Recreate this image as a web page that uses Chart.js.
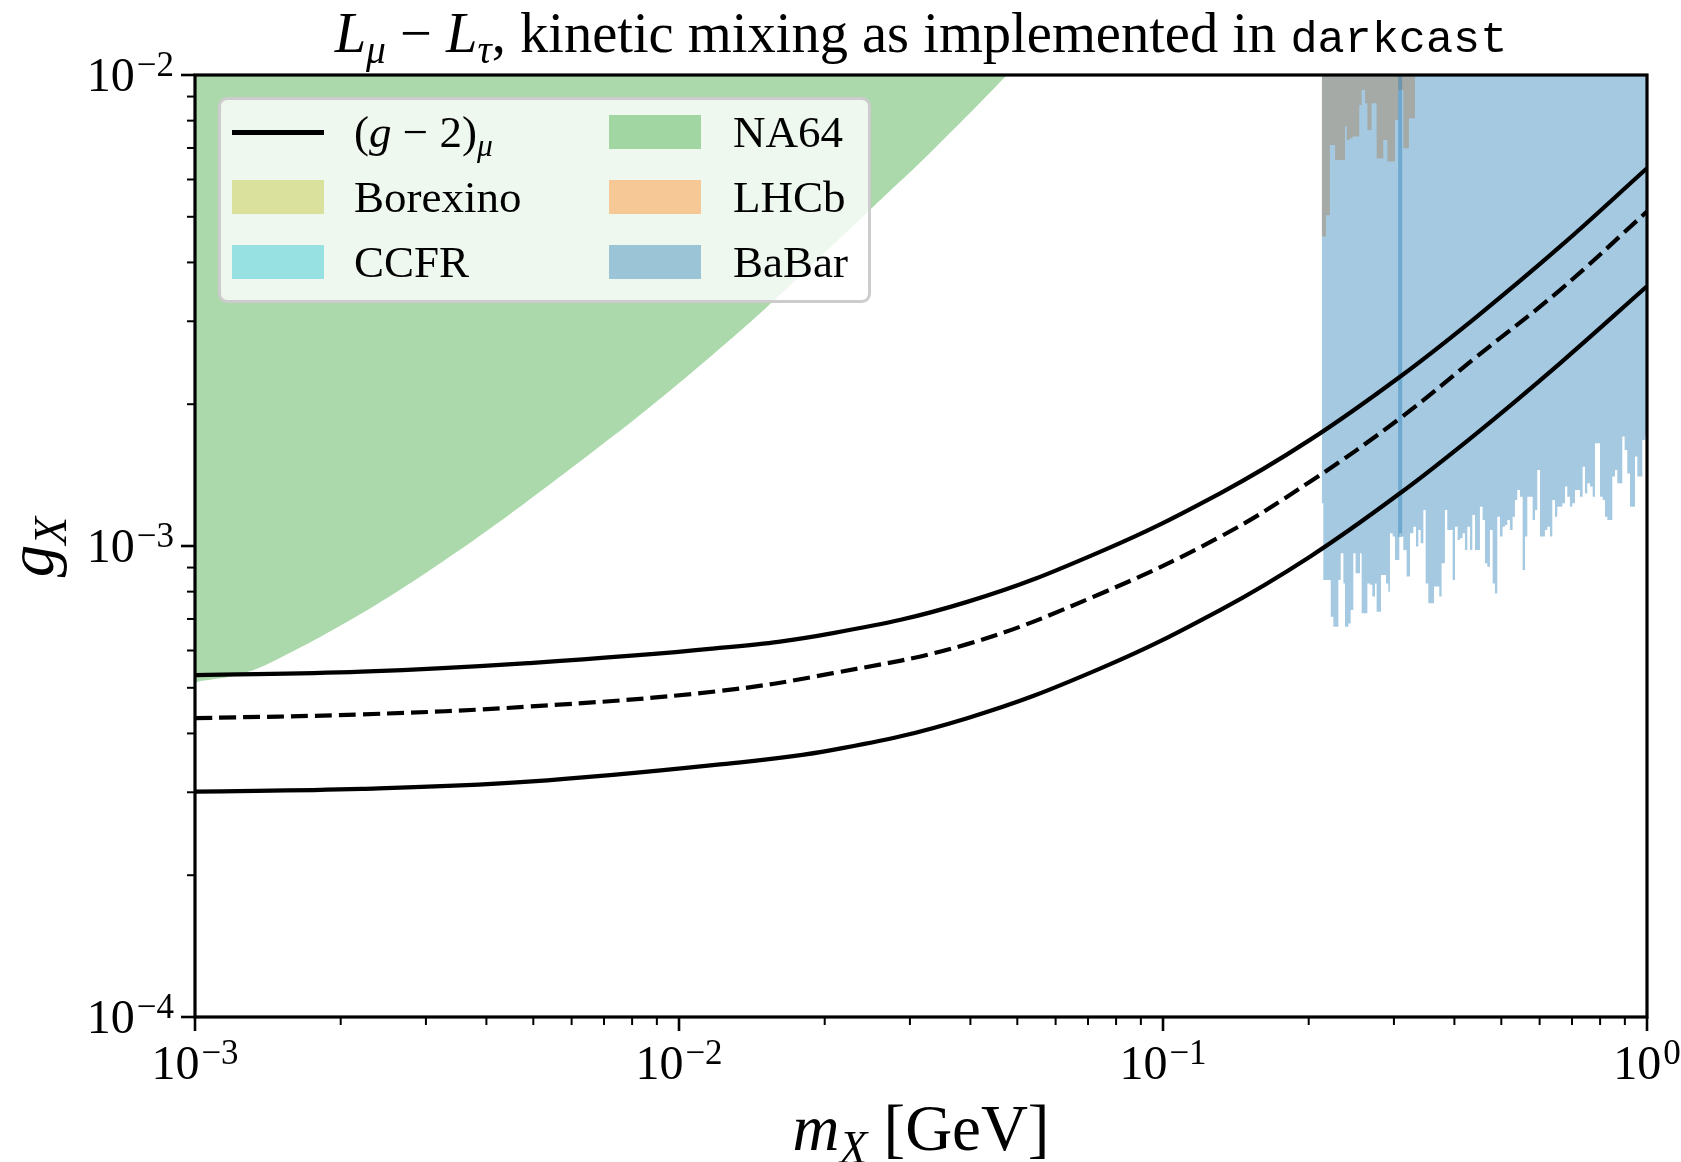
<!DOCTYPE html>
<html>
<head>
<meta charset="utf-8">
<title>L_mu - L_tau, kinetic mixing as implemented in darkcast</title>
<script src="https://cdn.jsdelivr.net/npm/chart.js@4.4.1/dist/chart.umd.min.js"></script>
<style>
  html, body { margin:0; padding:0; background:#ffffff; }
  #wrap { position:relative; width:1681px; height:1162px; overflow:hidden; background:#fff; }
  #chart { position:absolute; left:0; top:0; }
  .txt { position:absolute; font-family:"Liberation Serif","Times New Roman",serif; color:#000; white-space:nowrap; }
  .it { font-style:italic; }
  .tt { font-family:"Liberation Mono","DejaVu Sans Mono",monospace; font-size:0.8em; }
  .sub { font-size:70%; position:relative; top:0.28em; }
  #title { left:221px; width:1400px; top:5px; font-size:56.5px; line-height:56px; text-align:center; }
  #xlabel { left:221px; width:1400px; top:1096px; font-size:65px; line-height:65px; text-align:center; }
  #ylabel { left:-69px; top:507px; width:200px; height:80px; font-size:65px; line-height:80px; text-align:center; transform:rotate(-90deg); }
  #legend { position:absolute; left:218px; top:97px; width:647px; height:200px; border:3px solid #cccccc; border-radius:9px; background:rgba(255,255,255,0.8); }
  .sw { position:absolute; }
  .lt { position:absolute; font-family:"Liberation Serif","Times New Roman",serif; font-size:45px; line-height:44px; color:#000; white-space:nowrap; }
</style>
</head>
<body>
<div id="wrap">
  <canvas id="chart" width="1681" height="1162"></canvas>
  <div id="title" class="txt"><span class="it">L</span><span class="sub it">μ</span> − <span class="it">L</span><span class="sub it">τ</span>, kinetic mixing as implemented in <span class="tt">darkcast</span></div>
  <div id="xlabel" class="txt"><span class="it">m</span><span class="sub it">X</span> [GeV]</div>
  <div id="ylabel" class="txt"><span class="it">g</span><span class="sub it">X</span></div>
  <div id="legend"></div>
</div>
<script>
// ---------------- data ----------------
// (g-2)_mu band: mass [GeV] and coupling g_X
const gm2Mass    = [0.001, 0.00221, 0.00488, 0.01187, 0.0208, 0.0394, 0.0741, 0.1312, 0.2012, 0.3088, 0.4446, 0.661, 1.0];
const gm2Upper   = [5.32e-4, 5.41e-4, 5.64e-4, 6.06e-4, 6.53e-4, 7.61e-4, 9.72e-4, 1.294e-3, 1.680e-3, 2.288e-3, 3.067e-3, 4.320e-3, 6.34e-3];
const gm2Central = [4.31e-4, 4.39e-4, 4.56e-4, 4.91e-4, 5.37e-4, 6.19e-4, 7.91e-4, 1.046e-3, 1.369e-3, 1.867e-3, 2.523e-3, 3.495e-3, 5.13e-3];
const gm2Lower   = [3.01e-4, 3.05e-4, 3.16e-4, 3.43e-4, 3.69e-4, 4.31e-4, 5.49e-4, 7.31e-4, 9.49e-4, 1.294e-3, 1.735e-3, 2.443e-3, 3.56e-3];

// NA64 exclusion: lower boundary (excluded above)
const na64Mass     = [0.001, 0.001268, 0.001609, 0.002041, 0.002589, 0.003285, 0.004167, 0.005285, 0.006706, 0.008507, 0.01159, 0.0152, 0.01928, 0.02517, 0.03348, 0.04716, 0.0490];
const na64Coupling = [5.14e-4, 5.38e-4, 6.01e-4, 6.86e-4, 7.95e-4, 9.34e-4, 1.108e-3, 1.328e-3, 1.599e-3, 1.934e-3, 2.519e-3, 3.217e-3, 4.047e-3, 5.245e-3, 6.93e-3, 9.9e-3, 1.04e-2];

// LHCb exclusion (lower edge, excluded above) - mostly hidden below BaBar
const lhcbMass     = [0.2128, 0.2171, 0.2213, 0.2267, 0.2351, 0.2377, 0.2396, 0.2434, 0.2465, 0.2512, 0.2544, 0.2573, 0.2614, 0.2644, 0.2677, 0.2698, 0.2742, 0.2763, 0.2817, 0.2852, 0.2907, 0.2968, 0.3015, 0.3063, 0.3137, 0.3197, 0.3222, 0.3290, 0.3316, 0.3332];
const lhcbCoupling = [4.54e-3, 5.04e-3, 7.10e-3, 6.60e-3, 6.60e-3, 7.77e-3, 7.28e-3, 7.34e-3, 7.40e-3, 7.40e-3, 8.64e-3, 9.29e-3, 8.71e-3, 7.64e-3, 7.64e-3, 8.71e-3, 8.71e-3, 6.65e-3, 6.65e-3, 7.28e-3, 6.55e-3, 6.55e-3, 8.03e-3, 9.29e-3, 6.99e-3, 6.99e-3, 8.09e-3, 8.09e-3, 9.92e-3, 1.0e-2];

// BaBar exclusion (lower edge, excluded above)
const babarMass = [0.2128, 0.2144, 0.2196, 0.2221, 0.2249, 0.2285, 0.2303, 0.2329, 0.2359, 0.2377, 0.2415, 0.2442, 0.2473, 0.2500, 0.2532, 0.2553, 0.2573, 0.2614, 0.2644, 0.2677, 0.2707, 0.2742, 0.2763, 0.2798, 0.2821, 0.2852, 0.2889, 0.2921, 0.2944, 0.2982, 0.3015, 0.3048, 0.3078, 0.3112, 0.3137, 0.3187, 0.3238, 0.3290, 0.3332, 0.3369, 0.3407, 0.3451, 0.3489, 0.3533, 0.3590, 0.3630, 0.3676, 0.3723, 0.3764, 0.3824, 0.3867, 0.3916, 0.3967, 0.4011, 0.4062, 0.4107, 0.4159, 0.4206, 0.4253, 0.4308, 0.4356, 0.4411, 0.4460, 0.4517, 0.4574, 0.4626, 0.4678, 0.4737, 0.4798, 0.4851, 0.4905, 0.4968, 0.5031, 0.5087, 0.5144, 0.5209, 0.5276, 0.5336, 0.5395, 0.5464, 0.5534, 0.5596, 0.5658, 0.5730, 0.5804, 0.5869, 0.5934, 0.6010, 0.6077, 0.6154, 0.6224, 0.6303, 0.6373, 0.6454, 0.6526, 0.6609, 0.6683, 0.6769, 0.6844, 0.6931, 0.7008, 0.7098, 0.7178, 0.7269, 0.7363, 0.7445, 0.7528, 0.7624, 0.7722, 0.7808, 0.7895, 0.7997, 0.8099, 0.8190, 0.8281, 0.8386, 0.8479, 0.8588, 0.8683, 0.8794, 0.8891, 0.8990, 0.9105, 0.9224, 0.9326, 0.9445, 0.9550, 0.9672, 0.9779, 0.9904, 1.0];
const babarCoupling = [1.232e-3, 8.47e-4, 8.47e-4, 7.08e-4, 6.74e-4, 6.74e-4, 8.47e-4, 9.65e-4, 8.33e-4, 6.74e-4, 6.85e-4, 7.31e-4, 9.65e-4, 8.75e-4, 8.75e-4, 9.65e-4, 7.20e-4, 7.20e-4, 8.33e-4, 8.27e-4, 7.81e-4, 8.33e-4, 7.25e-4, 7.25e-4, 8.68e-4, 8.68e-4, 8.33e-4, 8.00e-4, 1.064e-3, 1.047e-3, 9.34e-4, 9.34e-4, 1.064e-3, 1.047e-3, 9.81e-4, 8.61e-4, 1.064e-3, 1.099e-3, 9.97e-4, 1.081e-3, 1.013e-3, 1.193e-3, 8.33e-4, 7.56e-4, 7.56e-4, 8.20e-4, 8.20e-4, 7.81e-4, 9.19e-4, 1.193e-3, 1.081e-3, 1.081e-3, 8.47e-4, 1.099e-3, 1.030e-3, 1.038e-3, 1.064e-3, 9.81e-4, 1.099e-3, 9.81e-4, 1.163e-3, 9.81e-4, 9.81e-4, 1.212e-3, 1.136e-3, 9.19e-4, 9.04e-4, 1.081e-3, 8.33e-4, 7.93e-4, 1.154e-3, 1.047e-3, 1.099e-3, 1.108e-3, 1.136e-3, 1.081e-3, 1.154e-3, 1.252e-3, 1.315e-3, 1.273e-3, 8.89e-4, 1.047e-3, 1.273e-3, 1.273e-3, 1.136e-3, 1.193e-3, 1.450e-3, 1.047e-3, 1.047e-3, 1.081e-3, 1.099e-3, 1.047e-3, 1.252e-3, 1.154e-3, 1.212e-3, 1.212e-3, 1.232e-3, 1.337e-3, 1.273e-3, 1.212e-3, 1.232e-3, 1.315e-3, 1.315e-3, 1.273e-3, 1.474e-3, 1.294e-3, 1.359e-3, 1.337e-3, 1.273e-3, 1.652e-3, 1.652e-3, 1.273e-3, 1.252e-3, 1.154e-3, 1.136e-3, 1.136e-3, 1.404e-3, 1.450e-3, 1.359e-3, 1.359e-3, 1.707e-3, 1.599e-3, 1.426e-3, 1.212e-3, 1.212e-3, 1.548e-3, 1.404e-3, 1.404e-3, 1.680e-3, 1.707e-3, 1.707e-3];

// BaBar narrow double-covered strip
const babarStripMass     = [0.309, 0.309];
const babarStripCoupling = [1.0e-2, 1.045e-3];

// axes
const xMin = 1e-3, xMax = 1;
const yMin = 1e-4, yMax = 1e-2;
const xMajorTicks = [1e-3, 1e-2, 1e-1, 1];
const xTickExponents = ['−3', '−2', '−1', '0'];
const yMajorTicks = [1e-4, 1e-3, 1e-2];
const yTickExponents = ['−4', '−3', '−2'];

// legend
const legendLabels = ['(g−2)μ', 'Borexino', 'CCFR', 'NA64', 'LHCb', 'BaBar'];
const colors = {
  olive:  'rgba(188,189,34,0.4)',
  cyan:   'rgba(23,190,207,0.4)',
  green:  'rgba(44,160,44,0.4)',
  orange: 'rgba(255,127,14,0.4)',
  blue:   'rgba(31,119,180,0.4)'
};
const legendColors = [null, colors.olive, colors.cyan, colors.green, colors.orange, colors.blue];

// ---------------- build ----------------
function pts(xs, ys) { return xs.map((x, i) => ({ x: x, y: ys[i] })); }

const LW = 4.2;
const datasets = [
  { label: 'g2upper', data: pts(gm2Mass, gm2Upper), borderColor: '#000', borderWidth: LW, fill: false, tension: 0.4, order: 0 },
  { label: 'g2central', data: pts(gm2Mass, gm2Central), borderColor: '#000', borderWidth: LW, borderDash: [17, 7], fill: false, tension: 0.4, order: 0 },
  { label: 'g2lower', data: pts(gm2Mass, gm2Lower), borderColor: '#000', borderWidth: LW, fill: false, tension: 0.4, order: 0 },
  { label: 'BaBar strip', data: pts(babarStripMass, babarStripCoupling), borderColor: colors.blue, borderWidth: 4, fill: false, order: 1 },
  { label: 'BaBar', data: pts(babarMass, babarCoupling), borderWidth: 0, borderColor: 'rgba(0,0,0,0)', backgroundColor: colors.blue, fill: 'end', stepped: true, order: 2 },
  { label: 'LHCb', data: pts(lhcbMass, lhcbCoupling), borderWidth: 0, borderColor: 'rgba(0,0,0,0)', backgroundColor: colors.orange, fill: 'end', stepped: true, order: 3 },
  { label: 'NA64', data: pts(na64Mass, na64Coupling), borderWidth: 0, borderColor: 'rgba(0,0,0,0)', backgroundColor: colors.green, fill: 'end', tension: 0.4, order: 4 }
];

const FONT = '"Liberation Serif", "Times New Roman", serif';
const axesPlugin = {
  id: 'mplAxes',
  afterDraw(chart) {
    const ctx = chart.ctx;
    const xs = chart.scales.x, ys = chart.scales.y;
    const a = chart.chartArea;
    ctx.save();
    ctx.strokeStyle = '#000';
    ctx.fillStyle = '#000';
    // frame
    ctx.lineWidth = 3.2;
    ctx.strokeRect(a.left, a.top, a.right - a.left, a.bottom - a.top);
    // x ticks
    for (let d = 0; d < xMajorTicks.length; d++) {
      const px = xs.getPixelForValue(xMajorTicks[d]);
      ctx.lineWidth = 2.6;
      ctx.beginPath(); ctx.moveTo(px, a.bottom); ctx.lineTo(px, a.bottom + 14); ctx.stroke();
      if (d < xMajorTicks.length - 1) {
        for (let k = 2; k <= 9; k++) {
          const mx = xs.getPixelForValue(k * xMajorTicks[d]);
          ctx.lineWidth = 2;
          ctx.beginPath(); ctx.moveTo(mx, a.bottom); ctx.lineTo(mx, a.bottom + 8); ctx.stroke();
        }
      }
    }
    // y ticks
    for (let d = 0; d < yMajorTicks.length; d++) {
      const py = ys.getPixelForValue(yMajorTicks[d]);
      ctx.lineWidth = 2.6;
      ctx.beginPath(); ctx.moveTo(a.left, py); ctx.lineTo(a.left - 14, py); ctx.stroke();
      if (d < yMajorTicks.length - 1) {
        for (let k = 2; k <= 9; k++) {
          const my = ys.getPixelForValue(k * yMajorTicks[d]);
          ctx.lineWidth = 2;
          ctx.beginPath(); ctx.moveTo(a.left, my); ctx.lineTo(a.left - 8, my); ctx.stroke();
        }
      }
    }
    // tick labels 10^n
    const base = '48px ' + FONT, sup = '35px ' + FONT;
    function pow10(exp, x, baseline, align) {
      ctx.font = base; const w1 = ctx.measureText('10').width;
      ctx.font = sup; const w2 = ctx.measureText(exp).width;
      const gap = 2;
      const total = w1 + gap + w2;
      const x0 = align === 'center' ? x - total / 2 : x - total;
      ctx.textAlign = 'left'; ctx.textBaseline = 'alphabetic';
      ctx.font = base; ctx.fillText('10', x0, baseline);
      ctx.font = sup; ctx.fillText(exp, x0 + w1 + gap, baseline - 15);
    }
    xMajorTicks.forEach((v, i) => pow10(xTickExponents[i], xs.getPixelForValue(v), a.bottom + 62, 'center'));
    yMajorTicks.forEach((v, i) => pow10(yTickExponents[i], a.left - 21, ys.getPixelForValue(v) + 16, 'right'));
    ctx.restore();
  }
};

new Chart(document.getElementById('chart'), {
  type: 'line',
  data: { datasets: datasets },
  options: {
    responsive: false,
    animation: false,
    devicePixelRatio: 1,
    layout: { padding: { left: 195, right: 34, top: 75, bottom: 145 } },
    elements: { point: { radius: 0, hoverRadius: 0 } },
    plugins: { legend: { display: false }, tooltip: { enabled: false }, title: { display: false } },
    scales: {
      x: { type: 'logarithmic', min: xMin, max: xMax, display: false },
      y: { type: 'logarithmic', min: yMin, max: yMax, display: false }
    }
  },
  plugins: [axesPlugin]
});

// ---------------- legend (matplotlib-like, 2 columns) ----------------
(function buildLegend() {
  const wrap = document.getElementById('wrap');
  const rowCenters = [132, 197, 262];
  const colSwatchX = [232, 609];
  const colTextX = [354, 733];
  for (let i = 0; i < legendLabels.length; i++) {
    const col = Math.floor(i / 3), row = i % 3;
    const cy = rowCenters[row];
    const sw = document.createElement('div');
    sw.className = 'sw';
    if (legendColors[i] === null) {
      sw.style.left = colSwatchX[col] + 'px'; sw.style.top = (cy - 2.5) + 'px';
      sw.style.width = '92px'; sw.style.height = '5px'; sw.style.background = '#000';
    } else {
      sw.style.left = colSwatchX[col] + 'px'; sw.style.top = (cy - 17) + 'px';
      sw.style.width = '92px'; sw.style.height = '34px'; sw.style.background = legendColors[i];
    }
    wrap.appendChild(sw);
    const t = document.createElement('div');
    t.className = 'lt';
    t.style.left = colTextX[col] + 'px';
    t.style.top = (cy - 22) + 'px';
    if (i === 0) {
      t.innerHTML = '(<span class="it">g</span> − 2)<span class="sub it">μ</span>';
    } else {
      t.textContent = legendLabels[i];
    }
    wrap.appendChild(t);
  }
})();
</script>
</body>
</html>
